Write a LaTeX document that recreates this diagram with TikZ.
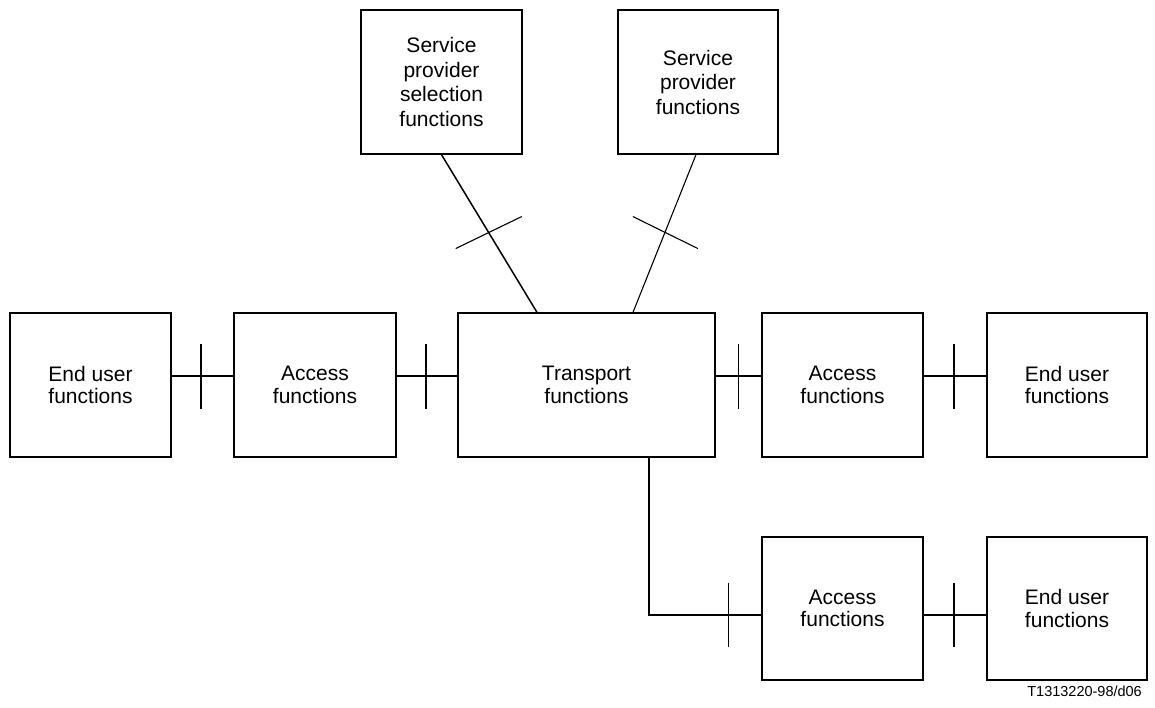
\documentclass[tikz,border=0pt]{standalone}
\usepackage{fontspec}
\setmainfont{Liberation Sans}
\usetikzlibrary{calc}
\begin{document}
\begin{tikzpicture}[x=1pt,y=-1pt,
  block/.style={draw, line width=1.3pt, inner sep=0pt, align=center,
    minimum width=161pt, minimum height=144pt,
    font=\fontsize{21}{22.5}\selectfont},
  topblock/.style={block, font=\fontsize{21}{24.5}\selectfont},
  link/.style={line width=1.1pt},
  ]
\useasboundingbox (0,0) rectangle (1155,707);

% upper functional blocks
\node[topblock] (sps) at (441.5,82) {Service\\provider\\selection\\functions};
\node[topblock, minimum width=160pt] (sp) at (698,82) {Service\\provider\\functions};

% main row
\node[block] (eu1) at (90.5,385) {End user\\functions};
\node[block, minimum width=162pt] (acc1) at (315,385) {Access\\functions};
\node[block, minimum width=257pt] (tr) at (586.5,385) {Transport\\functions};
\node[block] (acc2) at (842.5,385) {Access\\functions};
\node[block, minimum width=160pt] (eu2) at (1067,385) {End user\\functions};

% lower row
\node[block, minimum height=143pt] (acc3) at (842.5,608.5) {Access\\functions};
\node[block, minimum width=160pt, minimum height=143pt] (eu3) at (1067,608.5) {End user\\functions};

% reference levels of the horizontal links
\coordinate (r1) at (0,376);
\coordinate (r2) at (0,615);

% horizontal links of the main row
\draw[link] (eu1.east |- r1) -- (acc1.west |- r1);
\draw[link] (acc1.east |- r1) -- (tr.west |- r1);
\draw[link] (tr.east |- r1) -- (acc2.west |- r1);
\draw[link] (acc2.east |- r1) -- (eu2.west |- r1);

% reference-point bars on the main row
\draw[link] ($(eu1.east |- r1)!0.476!(acc1.west |- r1)$) ++(0,-32.5) -- ++(0,65);
\draw[link] ($(acc1.east |- r1)!0.484!(tr.west |- r1)$) ++(0,-32.5) -- ++(0,65);
\draw[link] ($(tr.east |- r1)!0.49!(acc2.west |- r1)$) ++(0,-32.5) -- ++(0,65);
\draw[link] ($(acc2.east |- r1)!0.484!(eu2.west |- r1)$) ++(0,-32.5) -- ++(0,65);

% branch from transport to the lower row
\coordinate (trb) at ([xshift=62.5pt]tr.south);
\draw[link] (trb) |- (acc3.west |- r2);
\draw[link] (acc3.east |- r2) -- (eu3.west |- r2);
\draw[link] ($(trb |- r2)!0.708!(acc3.west |- r2)$) ++(0,-32) -- ++(0,64);
\draw[link] ($(acc3.east |- r2)!0.484!(eu3.west |- r2)$) ++(0,-32) -- ++(0,64);

% diagonal links to the upper blocks
\coordinate (trl) at ([xshift=-49.5pt]tr.north);
\coordinate (trr) at ([xshift=46.5pt]tr.north);
\draw[line width=1.5pt] (sps.south) -- (trl);
\draw[link] ([xshift=-2pt]sp.south) -- (trr);
\draw[link] ($(sps.south)!0.494!(trl)$) ++(-33,16) -- ++(66,-32);
\draw[link] ($([xshift=-2pt]sp.south)!0.494!(trr)$) ++(-32,-16) -- ++(65,32);

% drawing reference
\node[anchor=base east, inner sep=0pt, font=\fontsize{14.5}{16}\selectfont] (ref) at (1142,696) {T1313220-98/d06};
\end{tikzpicture}
\end{document}
